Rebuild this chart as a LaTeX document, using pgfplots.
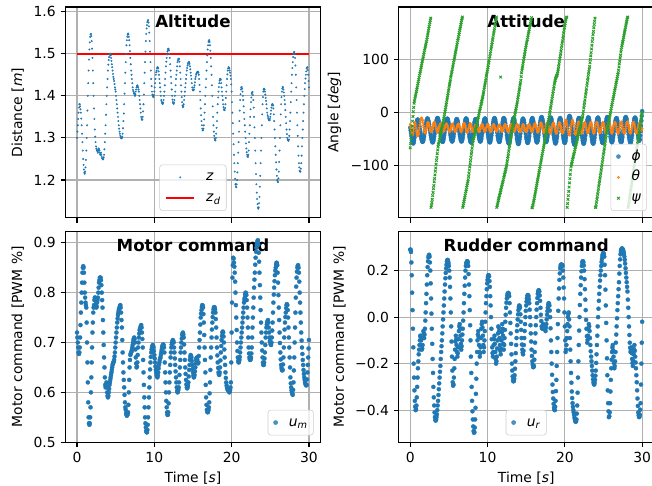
\documentclass[border=0pt]{standalone}
\usepackage{fontspec}
\setmainfont{DejaVu Sans}
\usepackage{pgfplots}
\usepackage{pgfplotstable}
\pgfplotsset{compat=1.18}

\definecolor{tabblue}{HTML}{1F77B4}
\definecolor{taborange}{HTML}{FF7F0E}
\definecolor{tabgreen}{HTML}{2CA02C}
\definecolor{gridgray}{HTML}{B0B0B0}
\definecolor{legedge}{HTML}{CCCCCC}

% t [s], z [m], phi theta psi [deg], u_m, u_r
\pgfplotstableread[row sep=\\]{t z phi th psi um ur\\
0.00 1.30 -28 -22 -66 0.72 0.29\\ 0.05 1.315 -33 -27 -58 0.71 0.29\\ 0.10 1.33 -38 -30 -50 0.70 0.28\\ 0.15 1.345 -43 -33 -42 0.69 0.235\\
0.20 1.36 -48 -38 -33 0.68 0.18\\ 0.25 1.372 -52 -41 -25 0.677 0.105\\ 0.30 1.38 -55 -42 -16 0.68 0.03\\ 0.35 1.38 -57 -40 -7 0.69 -0.05\\
0.40 1.375 -58 -36 2 0.71 -0.13\\ 0.45 1.368 -56 -30 10 0.735 -0.20\\ 0.50 1.36 -52 -25 18 0.76 -0.26\\ 0.55 1.346 -47 -20 22 0.78 -0.315\\
0.60 1.33 -42 -18 26 0.80 -0.36\\ 0.65 1.31 -36 -21 30 0.82 -0.385\\ 0.70 1.29 -30 -24 33 0.84 -0.40\\ 0.75 1.27 -25 -29 37 0.85 -0.395\\
0.80 1.25 -20 -34 40 0.853 -0.38\\ 0.85 1.236 -17 -38 44 0.85 -0.345\\ 0.90 1.225 -14 -41 47 0.84 -0.30\\ 0.95 1.218 -13 -43 51 0.82 -0.26\\
1.00 1.215 -13 -44 55 0.80 -0.22\\ 1.05 1.22 -15 -41 59 0.79 -0.19\\ 1.10 1.23 -18 -38 62 0.78 -0.16\\ 1.15 1.248 -22 -33 66 0.775 -0.14\\
1.20 1.27 -26 -28 70 0.77 -0.12\\ 1.25 1.30 -31 -23 74 0.74 -0.10\\ 1.30 1.33 -36 -18 77 0.70 -0.08\\ 1.35 1.365 -41 -14 81 0.66 -0.085\\
1.40 1.40 -45 -12 85 0.62 -0.10\\ 1.45 1.43 -49 -10 88 0.58 -0.12\\ 1.50 1.46 -52 -10 92 0.55 -0.14\\ 1.55 1.486 -54 -13 96 0.538 -0.135\\
1.60 1.51 -55 -15 99 0.535 -0.12\\ 1.65 1.527 -54 -19 103 0.538 -0.09\\ 1.70 1.54 -52 -24 106 0.55 -0.06\\ 1.75 1.546 -48 -28 110 0.57 -0.07\\
1.80 1.547 -44 -32 113 0.60 -0.09\\ 1.85 1.542 -39 -36 117 0.63 -0.075\\ 1.90 1.53 -34 -38 120 0.66 -0.05\\ 1.95 1.512 -29 -38 124 0.69 -0.015\\
2.00 1.49 -24 -36 127 0.72 0.02\\ 2.05 1.46 -20 -33 131 0.74 0.06\\ 2.10 1.43 -16 -29 134 0.76 0.10\\ 2.15 1.40 -13 -25 138 0.77 0.14\\
2.20 1.37 -11 -22 142 0.775 0.18\\ 2.25 1.345 -11 -19 146 0.785 0.215\\ 2.30 1.32 -12 -18 150 0.79 0.24\\ 2.35 1.303 -15 -19 154 0.79 0.257\\
2.40 1.29 -18 -21 158 0.785 0.265\\ 2.45 1.28 -22 -24 162 0.778 0.268\\ 2.50 1.275 -27 -27 166 0.77 0.26\\ 2.55 1.272 -32 -31 170 0.772 0.235\\
2.60 1.27 -37 -33 174 0.78 0.20\\ 2.65 1.268 -42 -35 178 0.785 0.145\\ 2.70 1.265 -46 -36 -178 0.79 0.08\\ 2.75 1.27 -50 -35 -174 0.80 0.015\\
2.80 1.275 -53 -33 -169 0.81 -0.05\\ 2.85 1.273 -55 -30 -163 0.82 -0.115\\ 2.90 1.27 -56 -27 -156 0.825 -0.18\\ 2.95 1.265 -55 -23 -150 0.83 -0.24\\
3.00 1.26 -53 -21 -143 0.83 -0.30\\ 3.05 1.262 -49 -19 -137 0.83 -0.345\\ 3.10 1.265 -45 -18 -130 0.825 -0.38\\ 3.15 1.26 -40 -18 -124 0.815 -0.41\\
3.20 1.255 -35 -20 -117 0.80 -0.43\\ 3.25 1.252 -29 -23 -110 0.785 -0.442\\ 3.30 1.25 -24 -26 -104 0.77 -0.445\\ 3.35 1.249 -19 -30 -97 0.745 -0.44\\
3.40 1.25 -15 -32 -90 0.72 -0.43\\ 3.45 1.254 -12 -35 -84 0.695 -0.418\\ 3.50 1.26 -10 -36 -77 0.67 -0.40\\ 3.55 1.273 -10 -37 -70 0.65 -0.38\\
3.60 1.29 -11 -35 -64 0.63 -0.36\\ 3.65 1.31 -14 -33 -60 0.615 -0.335\\ 3.70 1.33 -17 -30 -57 0.61 -0.31\\ 3.75 1.355 -22 -27 -54 0.612 -0.285\\
3.80 1.38 -27 -25 -50 0.62 -0.26\\ 3.85 1.40 -33 -22 -47 0.61 -0.235\\ 3.90 1.42 -38 -21 -43 0.60 -0.21\\ 3.95 1.44 -43 -20 -40 0.593 -0.18\\
4.00 1.46 -47 -22 -36 0.59 -0.15\\ 4.05 1.474 -50 -25 -32 0.593 -0.125\\ 4.10 1.485 -53 -27 -29 0.60 -0.10\\ 4.15 1.492 -54 -30 -25 0.607 -0.07\\
4.20 1.498 -55 -32 -21 0.615 -0.04\\ 4.25 1.50 -54 -34 -18 0.62 -0.01\\ 4.30 1.50 -51 -35 -14 0.625 0.02\\ 4.35 1.496 -47 -35 -11 0.63 0.05\\
4.40 1.49 -42 -33 -7 0.635 0.08\\ 4.45 1.483 -37 -30 -3 0.64 0.11\\ 4.50 1.475 -31 -28 2 0.645 0.14\\ 4.55 1.468 -26 -25 6 0.65 0.167\\
4.60 1.46 -21 -23 10 0.655 0.19\\ 4.65 1.452 -17 -21 15 0.658 0.21\\ 4.70 1.445 -14 -21 19 0.66 0.225\\ 4.75 1.44 -12 -22 24 0.662 0.238\\
4.80 1.435 -11 -24 28 0.665 0.245\\ 4.85 1.428 -12 -27 32 0.672 0.246\\ 4.90 1.42 -14 -29 36 0.68 0.24\\ 4.95 1.415 -18 -32 41 0.69 0.232\\
5.00 1.41 -22 -34 45 0.70 0.22\\ 5.05 1.40 -27 -36 50 0.71 0.20\\ 5.10 1.39 -32 -36 54 0.72 0.17\\ 5.15 1.38 -37 -34 58 0.73 0.13\\
5.20 1.37 -42 -32 62 0.74 0.08\\ 5.25 1.36 -46 -29 67 0.748 0.02\\ 5.30 1.35 -50 -26 71 0.755 -0.04\\ 5.35 1.34 -52 -23 75 0.76 -0.105\\
5.40 1.33 -54 -22 78 0.765 -0.17\\ 5.45 1.322 -54 -21 82 0.768 -0.23\\ 5.50 1.315 -52 -22 86 0.77 -0.28\\ 5.55 1.31 -49 -24 90 0.773 -0.295\\
5.60 1.305 -45 -26 94 0.775 -0.29\\ 5.65 1.302 -40 -29 98 0.77 -0.26\\ 5.70 1.30 -35 -31 101 0.76 -0.22\\ 5.75 1.299 -29 -34 105 0.745 -0.18\\
5.80 1.30 -24 -35 109 0.73 -0.14\\ 5.85 1.303 -20 -36 113 0.705 -0.105\\ 5.90 1.31 -16 -34 116 0.68 -0.08\\ 5.95 1.323 -14 -32 120 0.66 -0.095\\
6.00 1.34 -12 -29 124 0.64 -0.12\\ 6.05 1.358 -12 -26 128 0.625 -0.15\\ 6.10 1.38 -14 -24 132 0.61 -0.17\\ 6.15 1.405 -17 -22 136 0.595 -0.155\\
6.20 1.43 -21 -21 139 0.58 -0.13\\ 6.25 1.455 -26 -21 143 0.57 -0.095\\ 6.30 1.48 -31 -23 147 0.565 -0.06\\ 6.35 1.50 -36 -26 151 0.558 -0.04\\
6.40 1.52 -41 -28 155 0.555 -0.03\\ 6.45 1.532 -45 -31 159 0.553 -0.05\\ 6.50 1.54 -49 -33 162 0.555 -0.08\\ 6.55 1.545 -52 -35 166 0.556 -0.115\\
6.60 1.548 -54 -36 170 0.56 -0.14\\ 6.65 1.546 -54 -35 174 0.575 -0.125\\ 6.70 1.54 -53 -33 177 0.60 -0.10\\ 6.75 1.532 -50 -30 180 0.625 -0.075\\
6.80 1.52 -46 -27 -178 0.65 -0.05\\ 6.85 1.506 -41 -24 -175 0.665 -0.015\\ 6.90 1.49 -36 -22 -171 0.675 0.02\\ 6.95 1.475 -30 -20 -167 0.678 0.06\\
7.00 1.46 -25 -20 -163 0.68 0.10\\ 7.05 1.45 -20 -22 -160 0.682 0.135\\ 7.10 1.44 -16 -24 -156 0.685 0.17\\ 7.15 1.43 -13 -27 -152 0.69 0.20\\
7.20 1.42 -11 -30 -148 0.695 0.22\\ 7.25 1.414 -11 -33 -145 0.70 0.232\\ 7.30 1.41 -12 -35 -141 0.705 0.235\\ 7.35 1.407 -15 -37 -137 0.708 0.24\\
7.40 1.405 -19 -37 -133 0.71 0.24\\ 7.45 1.402 -24 -35 -130 0.707 0.235\\ 7.50 1.40 -29 -33 -126 0.70 0.22\\ 7.55 1.404 -34 -30 -120 0.686 0.185\\
7.60 1.41 -40 -27 -114 0.67 0.14\\ 7.65 1.415 -45 -24 -108 0.658 0.09\\ 7.70 1.42 -49 -22 -102 0.65 0.03\\ 7.75 1.423 -52 -20 -96 0.652 -0.035\\
7.80 1.425 -55 -21 -90 0.66 -0.10\\ 7.85 1.423 -56 -23 -84 0.675 -0.17\\ 7.90 1.42 -56 -25 -78 0.69 -0.24\\ 7.95 1.415 -53 -28 -73 0.70 -0.30\\
8.00 1.41 -50 -31 -67 0.71 -0.36\\ 8.05 1.40 -45 -34 -61 0.718 -0.405\\ 8.10 1.39 -40 -35 -55 0.725 -0.44\\ 8.15 1.38 -34 -36 -52 0.728 -0.47\\
8.20 1.37 -29 -35 -48 0.73 -0.49\\ 8.25 1.36 -24 -33 -45 0.733 -0.497\\ 8.30 1.35 -19 -30 -42 0.735 -0.495\\ 8.35 1.345 -16 -27 -39 0.73 -0.475\\
8.40 1.343 -13 -25 -35 0.72 -0.44\\ 8.45 1.344 -12 -23 -32 0.707 -0.39\\ 8.50 1.35 -12 -22 -29 0.69 -0.33\\ 8.55 1.363 -15 -22 -26 0.665 -0.265\\
8.60 1.38 -18 -23 -22 0.64 -0.20\\ 8.65 1.403 -23 -26 -19 0.615 -0.15\\ 8.70 1.43 -28 -28 -15 0.59 -0.10\\ 8.75 1.455 -33 -31 -12 0.57 -0.075\\
8.80 1.48 -38 -33 -9 0.55 -0.06\\ 8.85 1.505 -43 -35 -6 0.538 -0.085\\ 8.90 1.53 -47 -36 -2 0.53 -0.12\\ 8.95 1.547 -50 -35 2 0.523 -0.15\\
9.00 1.56 -53 -34 5 0.52 -0.17\\ 9.05 1.568 -54 -31 8 0.52 -0.155\\ 9.10 1.575 -54 -29 11 0.525 -0.13\\ 9.15 1.578 -52 -26 15 0.535 -0.09\\
9.20 1.58 -49 -24 18 0.55 -0.05\\ 9.25 1.574 -44 -22 21 0.57 -0.03\\ 9.30 1.565 -39 -22 24 0.59 -0.02\\ 9.35 1.55 -33 -23 28 0.61 -0.045\\
9.40 1.53 -28 -25 31 0.63 -0.08\\ 9.45 1.505 -23 -28 35 0.646 -0.12\\ 9.50 1.48 -18 -30 39 0.66 -0.15\\ 9.55 1.46 -15 -32 44 0.671 -0.13\\
9.60 1.44 -12 -34 48 0.68 -0.10\\ 9.65 1.423 -11 -36 52 0.686 -0.06\\ 9.70 1.41 -11 -35 56 0.69 -0.02\\ 9.75 1.403 -13 -33 60 0.693 0.02\\
9.80 1.40 -16 -31 64 0.695 0.06\\ 9.85 1.398 -20 -28 69 0.693 0.09\\ 9.90 1.397 -25 -26 73 0.69 0.12\\ 9.95 1.402 -30 -23 77 0.683 0.145\\
10.00 1.41 -36 -22 81 0.675 0.16\\ 10.05 1.42 -41 -22 85 0.668 0.172\\ 10.10 1.43 -46 -23 89 0.66 0.18\\ 10.15 1.44 -50 -26 94 0.652 0.18\\
10.20 1.45 -53 -28 98 0.645 0.175\\ 10.25 1.456 -55 -31 102 0.64 0.155\\ 10.30 1.46 -56 -33 106 0.635 0.13\\ 10.35 1.465 -55 -35 111 0.632 0.09\\
10.40 1.468 -52 -36 115 0.63 0.05\\ 10.45 1.467 -48 -35 120 0.634 0.00\\ 10.50 1.465 -43 -34 124 0.64 -0.05\\ 10.55 1.458 -38 -31 128 0.648 -0.095\\
10.60 1.45 -32 -29 132 0.655 -0.13\\ 10.65 1.44 -26 -26 137 0.66 -0.155\\ 10.70 1.43 -21 -24 141 0.665 -0.17\\ 10.75 1.42 -17 -22 146 0.668 -0.15\\
10.80 1.41 -13 -22 150 0.67 -0.12\\ 10.85 1.40 -11 -23 154 0.675 -0.095\\ 10.90 1.39 -10 -25 158 0.68 -0.08\\ 10.95 1.386 -11 -28 163 0.685 -0.115\\
11.00 1.383 -13 -30 167 0.69 -0.15\\ 11.05 1.381 -17 -32 172 0.693 -0.18\\ 11.10 1.381 -21 -34 176 0.695 -0.20\\ 11.15 1.384 -26 -35 180 0.696 -0.19\\
11.20 1.39 -32 -35 -178 0.695 -0.17\\ 11.25 1.40 -37 -33 -175 0.69 -0.135\\ 11.30 1.41 -43 -31 -172 0.68 -0.10\\ 11.35 1.425 -47 -28 -168 0.66 -0.07\\
11.40 1.44 -51 -26 -165 0.64 -0.04\\ 11.45 1.455 -53 -24 -162 0.62 -0.045\\ 11.50 1.47 -55 -23 -159 0.60 -0.06\\ 11.55 1.481 -55 -23 -156 0.583 -0.09\\
11.60 1.49 -53 -24 -153 0.57 -0.12\\ 11.65 1.498 -49 -26 -150 0.56 -0.145\\ 11.70 1.505 -45 -28 -147 0.555 -0.16\\ 11.75 1.509 -40 -31 -144 0.555 -0.135\\
11.80 1.512 -34 -33 -141 0.56 -0.10\\ 11.85 1.511 -28 -35 -138 0.578 -0.065\\ 11.90 1.508 -23 -35 -135 0.60 -0.03\\ 11.95 1.50 -18 -34 -132 0.62 -0.05\\
12.00 1.49 -14 -33 -129 0.64 -0.08\\ 12.05 1.475 -11 -30 -126 0.655 -0.115\\ 12.10 1.46 -10 -28 -122 0.67 -0.14\\ 12.15 1.445 -11 -26 -119 0.68 -0.12\\
12.20 1.43 -12 -24 -116 0.69 -0.09\\ 12.25 1.415 -16 -22 -113 0.696 -0.055\\ 12.30 1.40 -20 -22 -110 0.70 -0.02\\ 12.35 1.391 -25 -24 -107 0.703 0.01\\
12.40 1.385 -31 -26 -104 0.705 0.04\\ 12.45 1.382 -36 -29 -100 0.703 0.062\\ 12.50 1.381 -42 -31 -96 0.70 0.08\\ 12.55 1.384 -47 -33 -91 0.69 0.092\\
12.60 1.39 -51 -35 -86 0.68 0.10\\ 12.65 1.40 -54 -36 -82 0.668 0.103\\ 12.70 1.41 -57 -36 -77 0.655 0.104\\ 12.75 1.425 -58 -34 -72 0.642 0.10\\
12.80 1.44 -58 -32 -67 0.63 0.09\\ 12.85 1.45 -56 -29 -62 0.62 0.06\\ 12.90 1.46 -52 -27 -57 0.61 0.02\\ 12.95 1.47 -47 -25 -52 0.603 -0.025\\
13.00 1.48 -42 -23 -48 0.60 -0.07\\ 13.05 1.484 -36 -22 -43 0.601 -0.115\\ 13.10 1.487 -30 -22 -38 0.605 -0.16\\ 13.15 1.488 -24 -24 -34 0.61 -0.20\\
13.20 1.488 -19 -26 -30 0.62 -0.23\\ 13.25 1.481 -15 -29 -26 0.635 -0.255\\ 13.30 1.47 -12 -31 -23 0.65 -0.27\\ 13.35 1.455 -11 -33 -19 0.665 -0.276\\
13.40 1.44 -10 -35 -15 0.68 -0.275\\ 13.45 1.425 -12 -36 -11 0.69 -0.265\\ 13.50 1.41 -15 -35 -7 0.70 -0.25\\ 13.55 1.397 -20 -33 -3 0.708 -0.222\\
13.60 1.385 -25 -31 1 0.715 -0.19\\ 13.65 1.377 -31 -28 5 0.718 -0.155\\ 13.70 1.373 -37 -26 8 0.72 -0.12\\ 13.75 1.375 -42 -24 12 0.716 -0.09\\
13.80 1.38 -48 -22 16 0.71 -0.06\\ 13.85 1.39 -52 -22 20 0.696 -0.035\\ 13.90 1.40 -56 -23 25 0.68 -0.01\\ 13.95 1.41 -58 -25 29 0.665 0.012\\
14.00 1.42 -59 -27 34 0.65 0.03\\ 14.05 1.43 -57 -30 38 0.637 0.042\\ 14.10 1.44 -55 -32 43 0.625 0.05\\ 14.15 1.45 -50 -34 47 0.616 0.048\\
14.20 1.46 -45 -36 52 0.61 0.04\\ 14.25 1.466 -39 -36 56 0.608 0.012\\ 14.30 1.472 -33 -35 61 0.61 -0.02\\ 14.35 1.476 -27 -32 68 0.614 -0.055\\
14.40 1.479 -22 -30 75 0.62 -0.09\\ 14.45 1.48 -18 -27 80 0.632 -0.118\\ 14.50 1.48 -14 -25 84 0.645 -0.14\\ 14.55 1.476 -12 -23 88 0.655 -0.153\\
14.60 1.47 -11 -22 93 0.665 -0.16\\ 14.65 1.463 -13 -23 97 0.671 -0.145\\ 14.70 1.455 -15 -24 102 0.675 -0.12\\ 14.75 1.448 -19 -27 106 0.673 -0.09\\
14.80 1.44 -24 -29 110 0.67 -0.06\\ 14.85 1.43 -29 -32 115 0.663 -0.03\\ 14.90 1.42 -35 -34 119 0.655 0.00\\ 14.95 1.415 -40 -35 123 0.647 0.027\\
15.00 1.413 -46 -36 127 0.64 0.05\\ 15.05 1.413 -50 -35 131 0.634 0.067\\ 15.10 1.415 -54 -33 135 0.63 0.08\\ 15.15 1.42 -56 -30 138 0.631 0.09\\
15.20 1.425 -57 -28 142 0.635 0.095\\ 15.25 1.432 -55 -25 146 0.642 0.094\\ 15.30 1.44 -53 -23 150 0.65 0.09\\ 15.35 1.445 -49 -22 153 0.658 0.077\\
15.40 1.45 -44 -22 157 0.665 0.06\\ 15.45 1.453 -38 -24 161 0.668 0.032\\ 15.50 1.455 -32 -26 165 0.67 0.00\\ 15.55 1.456 -26 -29 168 0.666 -0.035\\
15.60 1.457 -21 -31 172 0.66 -0.07\\ 15.65 1.457 -17 -33 176 0.658 -0.105\\ 15.70 1.455 -13 -35 179 0.66 -0.14\\ 15.75 1.45 -11 -36 -179 0.673 -0.167\\
15.80 1.44 -10 -35 -178 0.69 -0.19\\ 15.85 1.426 -12 -33 -175 0.705 -0.205\\ 15.90 1.41 -14 -31 -172 0.72 -0.215\\ 15.95 1.39 -18 -28 -168 0.736 -0.215\\
16.00 1.37 -23 -25 -165 0.75 -0.21\\ 16.05 1.354 -28 -23 -161 0.758 -0.183\\ 16.10 1.34 -34 -21 -157 0.765 -0.15\\ 16.15 1.33 -40 -21 -153 0.771 -0.11\\
16.20 1.322 -45 -22 -149 0.775 -0.07\\ 16.25 1.318 -49 -25 -145 0.774 -0.035\\ 16.30 1.318 -53 -27 -141 0.77 0.00\\ 16.35 1.322 -55 -30 -137 0.757 0.032\\
16.40 1.33 -56 -33 -133 0.74 0.06\\ 16.45 1.344 -54 -35 -129 0.715 0.082\\ 16.50 1.36 -52 -37 -125 0.69 0.10\\ 16.55 1.38 -47 -36 -121 0.665 0.11\\
16.60 1.40 -42 -35 -117 0.64 0.115\\ 16.65 1.42 -36 -32 -113 0.615 0.115\\ 16.70 1.44 -30 -29 -109 0.59 0.11\\ 16.75 1.46 -24 -26 -105 0.575 0.093\\
16.80 1.48 -19 -23 -101 0.565 0.07\\ 16.85 1.496 -15 -21 -97 0.561 0.04\\ 16.90 1.51 -11 -19 -93 0.56 0.01\\ 16.95 1.52 -9 -20 -89 0.561 -0.017\\
17.00 1.528 -8 -21 -85 0.565 -0.04\\ 17.05 1.531 -10 -24 -81 0.57 -0.048\\ 17.10 1.532 -12 -27 -77 0.58 -0.05\\ 17.15 1.528 -16 -31 -73 0.598 -0.04\\
17.20 1.52 -21 -34 -69 0.62 -0.03\\ 17.25 1.507 -27 -36 -65 0.645 -0.042\\ 17.30 1.49 -33 -38 -61 0.67 -0.05\\ 17.35 1.47 -39 -37 -57 0.69 -0.047\\
17.40 1.45 -44 -36 -53 0.71 -0.04\\ 17.45 1.425 -48 -33 -49 0.726 -0.052\\ 17.50 1.40 -52 -30 -45 0.74 -0.06\\ 17.55 1.375 -54 -26 -41 0.751 -0.045\\
17.60 1.35 -55 -23 -37 0.76 -0.03\\ 17.65 1.33 -53 -21 -33 0.766 -0.01\\ 17.70 1.315 -51 -19 -29 0.77 0.01\\ 17.75 1.305 -46 -20 -25 0.771 0.026\\
17.80 1.298 -41 -21 -21 0.77 0.04\\ 17.85 1.295 -35 -24 -17 0.766 0.052\\ 17.90 1.294 -29 -27 -13 0.76 0.06\\ 17.95 1.30 -23 -31 -9 0.747 0.058\\
18.00 1.31 -18 -34 -5 0.73 0.05\\ 18.05 1.324 -14 -37 0 0.71 0.028\\ 18.10 1.34 -11 -39 4 0.69 0.00\\ 18.15 1.36 -10 -38 9 0.674 -0.048\\
18.20 1.38 -9 -37 13 0.66 -0.10\\ 18.25 1.396 -11 -34 18 0.649 -0.15\\ 18.30 1.41 -14 -30 22 0.64 -0.20\\ 18.35 1.421 -19 -26 27 0.636 -0.248\\
18.40 1.43 -24 -23 31 0.635 -0.29\\ 18.45 1.436 -30 -21 36 0.64 -0.322\\ 18.50 1.44 -36 -19 40 0.65 -0.35\\ 18.55 1.44 -42 -20 45 0.664 -0.373\\
18.60 1.438 -47 -21 49 0.68 -0.39\\ 18.65 1.43 -51 -25 54 0.693 -0.398\\ 18.70 1.42 -55 -28 58 0.705 -0.40\\ 18.75 1.41 -57 -32 61 0.713 -0.385\\
18.80 1.40 -58 -35 64 0.72 -0.36\\ 18.85 1.39 -56 -37 66 0.722 -0.318\\ 18.90 1.38 -54 -39 68 0.72 -0.27\\ 18.95 1.373 -49 -38 70 0.712 -0.21\\
19.00 1.368 -44 -36 71 0.70 -0.15\\ 19.05 1.366 -38 -33 74 0.686 -0.09\\ 19.10 1.366 -32 -29 78 0.67 -0.03\\ 19.15 1.371 -26 -25 82 0.655 0.027\\
19.20 1.38 -21 -22 87 0.64 0.08\\ 19.25 1.395 -17 -20 92 0.629 0.123\\ 19.30 1.41 -13 -18 97 0.62 0.16\\ 19.35 1.425 -11 -19 102 0.614 0.188\\
19.40 1.44 -10 -21 106 0.61 0.21\\ 19.45 1.451 -12 -25 111 0.607 0.22\\ 19.50 1.46 -14 -28 116 0.605 0.225\\ 19.55 1.465 -19 -32 121 0.604 0.226\\
19.60 1.468 -24 -35 126 0.605 0.225\\ 19.65 1.467 -30 -37 131 0.603 0.224\\ 19.70 1.465 -36 -39 135 0.60 0.22\\ 19.75 1.46 -42 -37 140 0.602 0.20\\
19.80 1.455 -47 -36 145 0.605 0.17\\ 19.85 1.448 -51 -32 150 0.61 0.127\\ 19.90 1.44 -55 -28 155 0.62 0.08\\ 19.95 1.427 -56 -24 160 0.66 0.02\\
20.00 1.41 -57 -20 164 0.72 -0.04\\ 20.05 1.385 -55 -17 168 0.78 -0.10\\ 20.10 1.36 -52 -14 172 0.83 -0.15\\ 20.15 1.335 -47 -14 176 0.855 -0.14\\
20.20 1.31 -41 -15 179 0.87 -0.12\\ 20.25 1.285 -35 -19 180 0.868 -0.09\\ 20.30 1.26 -29 -23 -178 0.86 -0.06\\ 20.35 1.24 -23 -28 -171 0.852 -0.03\\
20.40 1.22 -18 -33 -163 0.84 0.00\\ 20.45 1.203 -14 -37 -156 0.822 0.013\\ 20.50 1.19 -10 -41 -148 0.80 0.02\\ 20.55 1.185 -8 -42 -140 0.775 -0.01\\
20.60 1.183 -6 -42 -132 0.75 -0.04\\ 20.65 1.19 -7 -39 -124 0.725 -0.09\\ 20.70 1.20 -9 -35 -116 0.70 -0.14\\ 20.75 1.218 -13 -30 -108 0.683 -0.19\\
20.80 1.24 -18 -25 -101 0.67 -0.24\\ 20.85 1.265 -24 -21 -98 0.663 -0.282\\ 20.90 1.29 -30 -17 -95 0.66 -0.32\\ 20.95 1.315 -36 -15 -92 0.661 -0.348\\
21.00 1.34 -43 -14 -88 0.665 -0.37\\ 21.05 1.365 -49 -16 -85 0.671 -0.386\\ 21.10 1.39 -54 -19 -82 0.68 -0.40\\ 21.15 1.404 -57 -23 -79 0.69 -0.41\\
21.20 1.415 -60 -28 -76 0.70 -0.42\\ 21.25 1.42 -59 -33 -73 0.71 -0.432\\ 21.30 1.421 -58 -37 -69 0.72 -0.44\\ 21.35 1.417 -54 -40 -66 0.73 -0.447\\
21.40 1.41 -49 -41 -63 0.74 -0.45\\ 21.45 1.40 -43 -39 -60 0.75 -0.448\\ 21.50 1.39 -37 -37 -57 0.76 -0.44\\ 21.55 1.375 -31 -33 -54 0.77 -0.415\\
21.60 1.36 -25 -28 -51 0.78 -0.38\\ 21.65 1.345 -20 -24 -48 0.786 -0.325\\ 21.70 1.33 -15 -20 -44 0.79 -0.26\\ 21.75 1.315 -12 -18 -41 0.796 -0.19\\
21.80 1.30 -10 -17 -38 0.80 -0.12\\ 21.85 1.287 -10 -19 -35 0.799 -0.058\\ 21.90 1.275 -11 -21 -32 0.795 0.00\\ 21.95 1.266 -15 -25 -29 0.785 0.052\\
22.00 1.26 -19 -29 -26 0.77 0.10\\ 22.05 1.256 -24 -33 -23 0.75 0.137\\ 22.10 1.255 -30 -36 -19 0.73 0.17\\ 22.15 1.26 -36 -38 -16 0.71 0.197\\
22.20 1.27 -42 -39 -13 0.69 0.22\\ 22.25 1.29 -47 -37 -10 0.678 0.233\\ 22.30 1.31 -52 -35 -7 0.67 0.24\\ 22.35 1.33 -55 -31 -2 0.666 0.24\\
22.40 1.35 -58 -27 3 0.665 0.235\\ 22.45 1.368 -58 -23 9 0.666 0.222\\ 22.50 1.385 -57 -20 14 0.67 0.20\\ 22.55 1.396 -53 -19 19 0.678 0.163\\
22.60 1.405 -49 -18 24 0.69 0.12\\ 22.65 1.408 -43 -20 30 0.71 0.075\\ 22.70 1.409 -37 -23 35 0.73 0.03\\ 22.75 1.402 -31 -27 40 0.75 -0.012\\
22.80 1.39 -25 -31 45 0.77 -0.05\\ 22.85 1.372 -20 -34 51 0.79 -0.082\\ 22.90 1.35 -15 -37 56 0.81 -0.11\\ 22.95 1.325 -12 -38 61 0.826 -0.098\\
23.00 1.30 -9 -38 66 0.84 -0.08\\ 23.05 1.27 -9 -36 72 0.856 -0.052\\ 23.10 1.24 -10 -33 77 0.87 -0.03\\ 23.15 1.214 -13 -29 82 0.882 -0.04\\
23.20 1.19 -17 -25 87 0.89 -0.06\\ 23.25 1.17 -22 -22 94 0.896 -0.09\\ 23.30 1.155 -28 -19 100 0.90 -0.12\\ 23.35 1.143 -34 -18 107 0.904 -0.147\\
23.40 1.135 -40 -18 113 0.905 -0.17\\ 23.45 1.132 -45 -21 120 0.896 -0.19\\ 23.50 1.135 -50 -24 127 0.88 -0.21\\ 23.55 1.145 -54 -28 134 0.862 -0.23\\
23.60 1.16 -57 -32 140 0.84 -0.25\\ 23.65 1.184 -58 -35 147 0.815 -0.267\\ 23.70 1.21 -58 -38 153 0.79 -0.28\\ 23.75 1.24 -55 -39 160 0.765 -0.288\\
23.80 1.27 -52 -38 166 0.74 -0.29\\ 23.85 1.30 -47 -35 172 0.72 -0.283\\ 23.90 1.33 -41 -32 178 0.70 -0.27\\ 23.95 1.356 -35 -28 -178 0.684 -0.252\\
24.00 1.38 -29 -24 -178 0.67 -0.23\\ 24.05 1.397 -23 -21 -173 0.66 -0.197\\ 24.10 1.41 -18 -18 -168 0.655 -0.16\\ 24.15 1.415 -14 -18 -163 0.655 -0.12\\
24.20 1.417 -11 -19 -158 0.66 -0.08\\ 24.25 1.415 -10 -22 -153 0.668 -0.04\\ 24.30 1.41 -9 -25 -148 0.68 0.00\\ 24.35 1.403 -11 -29 -143 0.695 0.036\\
24.40 1.395 -14 -33 -138 0.71 0.07\\ 24.45 1.388 -19 -36 -133 0.72 0.10\\ 24.50 1.38 -24 -38 -128 0.73 0.13\\ 24.55 1.37 -30 -38 -123 0.736 0.157\\
24.60 1.36 -36 -37 -118 0.74 0.18\\ 24.65 1.354 -42 -34 -113 0.743 0.20\\ 24.70 1.35 -47 -30 -108 0.745 0.22\\ 24.75 1.346 -51 -26 -103 0.74 0.237\\
24.80 1.343 -55 -23 -98 0.73 0.25\\ 24.85 1.342 -56 -20 -93 0.72 0.262\\ 24.90 1.342 -57 -18 -88 0.71 0.27\\ 24.95 1.345 -55 -19 -83 0.703 0.274\\
25.00 1.35 -52 -20 -78 0.70 0.275\\ 25.05 1.357 -47 -23 -73 0.696 0.271\\ 25.10 1.365 -42 -27 -68 0.695 0.26\\ 25.15 1.372 -36 -31 -63 0.70 0.225\\
25.20 1.378 -30 -35 -58 0.71 0.18\\ 25.25 1.38 -24 -37 -53 0.724 0.118\\ 25.30 1.38 -19 -39 -48 0.74 0.05\\ 25.35 1.377 -15 -38 -43 0.76 -0.025\\
25.40 1.37 -11 -36 -38 0.78 -0.10\\ 25.45 1.356 -9 -32 -34 0.796 -0.177\\ 25.50 1.34 -8 -28 -30 0.81 -0.25\\ 25.55 1.32 -10 -24 -27 0.823 -0.315\\
25.60 1.30 -12 -21 -23 0.835 -0.37\\ 25.65 1.28 -16 -19 -19 0.844 -0.405\\ 25.70 1.26 -21 -18 -15 0.85 -0.43\\ 25.75 1.242 -27 -19 -12 0.856 -0.426\\
25.80 1.225 -33 -21 -8 0.86 -0.41\\ 25.85 1.21 -39 -25 -4 0.859 -0.37\\ 25.90 1.20 -45 -29 0 0.855 -0.32\\ 25.95 1.196 -49 -33 4 0.84 -0.27\\
26.00 1.195 -53 -36 8 0.82 -0.22\\ 26.05 1.204 -55 -38 12 0.795 -0.183\\ 26.10 1.22 -56 -39 15 0.77 -0.15\\ 26.15 1.243 -54 -37 19 0.745 -0.13\\
26.20 1.27 -51 -35 23 0.72 -0.12\\ 26.25 1.30 -46 -31 27 0.699 -0.143\\ 26.30 1.33 -41 -27 30 0.68 -0.17\\ 26.35 1.356 -35 -23 34 0.666 -0.197\\
26.40 1.38 -29 -20 38 0.655 -0.22\\ 26.45 1.397 -24 -19 42 0.649 -0.21\\ 26.50 1.41 -19 -18 45 0.645 -0.19\\ 26.55 1.417 -15 -20 49 0.644 -0.15\\
26.60 1.421 -12 -22 53 0.645 -0.11\\ 26.65 1.42 -11 -26 57 0.656 -0.075\\ 26.70 1.415 -10 -30 60 0.67 -0.04\\ 26.75 1.408 -12 -34 64 0.69 -0.005\\
26.80 1.40 -15 -37 68 0.71 0.03\\ 26.85 1.39 -20 -38 72 0.726 0.06\\ 26.90 1.38 -25 -39 75 0.74 0.09\\ 26.95 1.366 -31 -37 80 0.751 0.12\\
27.00 1.35 -37 -34 86 0.76 0.15\\ 27.05 1.335 -42 -30 92 0.769 0.187\\ 27.10 1.32 -47 -26 97 0.775 0.22\\ 27.15 1.309 -51 -22 103 0.777 0.248\\
27.20 1.30 -54 -19 108 0.775 0.27\\ 27.25 1.296 -55 -18 114 0.765 0.283\\ 27.30 1.294 -56 -17 119 0.75 0.29\\ 27.35 1.293 -54 -19 123 0.73 0.294\\
27.40 1.296 -51 -22 127 0.71 0.295\\ 27.45 1.305 -46 -26 131 0.69 0.294\\ 27.50 1.32 -40 -30 134 0.67 0.29\\ 27.55 1.34 -34 -34 138 0.65 0.286\\
27.60 1.36 -28 -37 142 0.63 0.28\\ 27.65 1.385 -22 -38 146 0.618 0.271\\ 27.70 1.41 -17 -39 150 0.61 0.26\\ 27.75 1.43 -13 -37 154 0.604 0.246\\
27.80 1.45 -10 -34 157 0.60 0.23\\ 27.85 1.466 -9 -30 161 0.597 0.21\\ 27.90 1.48 -8 -26 165 0.595 0.19\\ 27.95 1.492 -10 -22 169 0.605 0.17\\
28.00 1.50 -13 -19 172 0.62 0.15\\ 28.05 1.503 -18 -18 176 0.644 0.13\\ 28.10 1.504 -23 -17 179 0.67 0.11\\ 28.15 1.499 -29 -19 180 0.70 0.075\\
28.20 1.49 -35 -22 -178 0.73 0.04\\ 28.25 1.472 -41 -26 -173 0.76 0.00\\ 28.30 1.45 -46 -30 -168 0.79 -0.04\\ 28.35 1.42 -50 -34 -163 0.812 -0.077\\
28.40 1.39 -54 -37 -158 0.83 -0.11\\ 28.45 1.36 -56 -38 -153 0.842 -0.132\\ 28.50 1.33 -57 -39 -148 0.85 -0.15\\ 28.55 1.305 -55 -37 -143 0.854 -0.142\\
28.60 1.28 -52 -34 -138 0.855 -0.13\\ 28.65 1.258 -47 -30 -133 0.85 -0.155\\ 28.70 1.24 -42 -26 -128 0.84 -0.18\\ 28.75 1.23 -36 -22 -123 0.822 -0.197\\
28.80 1.222 -30 -19 -118 0.80 -0.21\\ 28.85 1.22 -24 -18 -113 0.78 -0.188\\ 28.90 1.22 -19 -18 -108 0.76 -0.16\\ 28.95 1.227 -15 -20 -103 0.74 -0.138\\
29.00 1.24 -11 -23 -98 0.72 -0.12\\ 29.05 1.258 -10 -27 -93 0.704 -0.145\\ 29.10 1.28 -9 -31 -88 0.69 -0.17\\ 29.15 1.30 -11 -34 -83 0.677 -0.195\\
29.20 1.32 -14 -37 -78 0.665 -0.22\\ 29.25 1.34 -19 -38 -73 0.655 -0.25\\ 29.30 1.36 -25 -38 -68 0.645 -0.28\\ 29.35 1.38 -31 -36 -63 0.637 -0.315\\
29.40 1.40 -37 -33 -58 0.63 -0.35\\ 29.45 1.416 -42 -29 -53 0.625 -0.382\\ 29.50 1.43 -47 -26 -48 0.62 -0.41\\ 29.55 1.441 -50 -23 -43 0.617 -0.422\\
29.60 1.45 -53 -21 -38 0.615 -0.43\\ 29.65 1.458 -52 -21 -33 0.614 -0.428\\ 29.70 1.465 -50 -22 -28 0.615 -0.42\\ 29.75 1.467 -43 -25 -23 0.626 -0.398\\
29.80 1.468 -35 -28 -18 0.64 -0.37\\ 29.85 1.461 -25 -31 -13 0.655 -0.29\\ 29.90 1.45 -15 -33 -9 0.67 -0.20\\ 29.95 1.435 -6 -32 -4 0.688 -0.11\\
30.00 1.42 3 -30 0 0.705 -0.02\\
}\flight

\pgfplotsset{
  mpl/.style={
    scale only axis, width=183.7bp, height=151.9bp, anchor=south west,
    xmin=-1.5, xmax=31.5, xtick={0,10,20,30},
    tick pos=left, tick align=outside, major tick length=3.5bp,
    tick style={black, line width=0.8bp},
    axis line style={line width=0.8bp},
    grid=major, grid style={gridgray, line width=0.8bp},
    ticklabel style={font=\fontsize{10bp}{12bp}\selectfont},
    label style={font=\fontsize{10bp}{12bp}\selectfont},
    legend cell align=left,
    legend image code/.code={\draw[mark repeat=2,mark phase=2,##1] plot coordinates {(0bp,0bp)(10bp,0bp)(20bp,0bp)};},
    legend style={draw=legedge, fill=white, fill opacity=0.8, draw opacity=1, text opacity=1,
      rounded corners=2bp, inner xsep=4bp, inner ysep=4bp, row sep=5bp,
      font=\fontsize{10bp}{12bp}\selectfont,
      /tikz/every odd column/.style={column sep=8bp},
      nodes={inner sep=0pt, text height=7.5bp, text depth=2.5bp}},
  },
}
\tikzset{ttl/.style={font=\fontsize{12bp}{14bp}\selectfont\bfseries, anchor=base, yshift=-14.6bp}}

\begin{document}
\begin{tikzpicture}
\useasboundingbox (0,0) rectangle (469.44bp,349.92bp);

% Altitude
\begin{axis}[mpl, at={(47.1bp,193bp)},
  ymin=1.11, ymax=1.611, ytick={1.2,1.3,1.4,1.5,1.6},
  yticklabels={1.2,1.3,1.4,1.5,1.6}, xticklabels={\empty,\empty,\empty,\empty},
  ylabel={Distance [\textit{m}]},
  legend style={at={(0.5,0.033)}, anchor=south}]
\addplot[only marks, mark=*, mark size=0.6bp, tabblue, line width=0.2bp] table[x=t,y=z] {\flight};
\addlegendentry{\textit{z}}
\addplot[red, line width=1.5bp] coordinates {(0,1.5)(30,1.5)};
\addlegendentry{\textit{z}\textsubscript{\textit{d}}}
\node[ttl] at (rel axis cs:0.5,1) {Altitude};
\end{axis}

% Attitude
\begin{axis}[mpl, at={(287bp,193bp)},
  ymin=-198, ymax=199, ytick={-100,0,100},
  yticklabels={−100,0,100}, xticklabels={\empty,\empty,\empty,\empty},
  ylabel={Angle [\textit{deg}]},
  legend style={at={(1,0)}, anchor=south east, xshift=-5bp, yshift=5bp}]
\addplot[only marks, mark=*, mark size=1.45bp, tabblue, line width=0.2bp] table[x=t,y=phi] {\flight};
\addlegendentry{\textit{ϕ}}
\addplot[only marks, mark=*, mark size=0.9bp, taborange, line width=0.2bp] table[x=t,y=th] {\flight};
\addlegendentry{\textit{θ}}
\addplot[only marks, mark=x, mark size=1.3bp, tabgreen, line width=0.7bp] table[x=t,y=psi] {\flight};
\addlegendentry{\textit{ψ}}
\addplot[only marks, mark=x, mark size=1.3bp, tabgreen, line width=0.7bp, forget plot] coordinates {(11.7,67)};
\node[ttl] at (rel axis cs:0.5,1) {Attitude};
\end{axis}

% Motor command
\begin{axis}[mpl, at={(47.1bp,31.5bp)},
  ymin=0.5, ymax=0.923, ytick={0.5,0.6,0.7,0.8,0.9},
  yticklabels={0.5,0.6,0.7,0.8,0.9}, xticklabels={0,10,20,30},
  xlabel={Time [\textit{s}]}, ylabel={Motor command [PWM \%]},
  legend style={at={(1,0)}, anchor=south east, xshift=-5bp, yshift=5bp}]
\addplot[only marks, mark=*, mark size=1.5bp, tabblue, line width=0.2bp] table[x=t,y=um] {\flight};
\addlegendentry{\textit{u}\textsubscript{\textit{m}}}
\node[ttl] at (rel axis cs:0.5,1) {Motor command};
\end{axis}

% Rudder command
\begin{axis}[mpl, at={(287bp,31.5bp)},
  ymin=-0.538, ymax=0.369, ytick={-0.4,-0.2,0,0.2},
  yticklabels={−0.4,−0.2,0.0,0.2}, xticklabels={0,10,20,30},
  xlabel={Time [\textit{s}]}, ylabel={Motor command [PWM \%]},
  legend style={at={(0.5,0)}, anchor=south, yshift=5bp}]
\addplot[only marks, mark=*, mark size=1.5bp, tabblue, line width=0.2bp] table[x=t,y=ur] {\flight};
\addlegendentry{\textit{u}\textsubscript{\textit{r}}}
\node[ttl] at (rel axis cs:0.5,1) {Rudder command};
\end{axis}
\end{tikzpicture}
\end{document}
